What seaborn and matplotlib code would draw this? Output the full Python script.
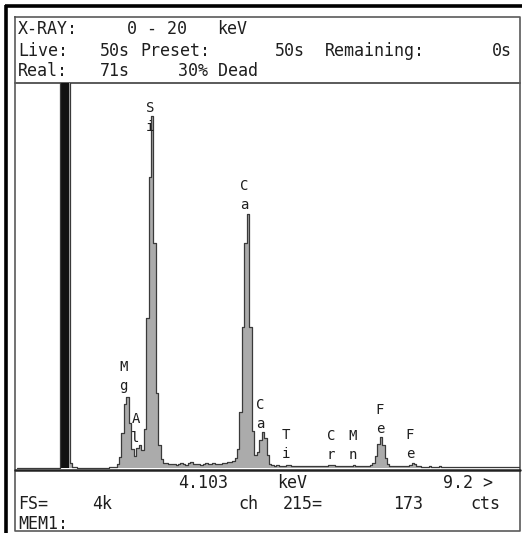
import numpy as np
import matplotlib
matplotlib.use("Agg")
import matplotlib.pyplot as plt
import seaborn as sns

# EDS spectrum, counts per 0.05 keV channel, one row per keV (-1.00 .. 9.25)
chan_start = -1.0
chan_width = 0.05
full_scale = 4096

counts = [
    # -1 keV
    0, 0, 0, 0, 0, 0, 0, 0, 0, 0, 0, 0, 0, 0, 0, 0, 0, 0, 6000, 6000,
    # 0 keV
    6000, 6000, 60, 15, 8, 6, 5, 6, 5, 4, 5, 6, 5, 4, 5, 6, 5, 6, 8, 10,
    # 1 keV  (Mg, Al, Si)
    15, 40, 120, 380, 680, 760, 480, 200, 130, 210, 250, 190, 420, 1600, 3100, 3750, 2400, 800, 250, 100,
    # 2 keV
    60, 55, 45, 40, 50, 35, 45, 60, 40, 35, 55, 70, 45, 40, 50, 35, 45, 60, 50, 40,
    # 3 keV  (Ca ka)
    55, 45, 40, 50, 60, 55, 70, 65, 80, 110, 200, 600, 1500, 2400, 2700, 1500, 400, 140, 170, 300,
    # 4 keV  (Ca kb, Ti)
    390, 320, 140, 50, 30, 25, 30, 25, 20, 25, 35, 30, 20, 25, 20, 25, 20, 25, 20, 25,
    # 5 keV  (Cr, Mn)
    20, 25, 20, 25, 20, 20, 25, 30, 35, 30, 20, 25, 20, 25, 20, 20, 25, 30, 25, 20,
    # 6 keV  (Fe ka)
    25, 20, 25, 20, 30, 60, 130, 260, 330, 250, 110, 40, 25, 20, 25, 20, 20, 25, 20, 25,
    # 7 keV  (Fe kb)
    35, 55, 45, 25, 20, 18, 15, 18, 20, 15, 18, 15, 20, 18, 15, 18, 15, 18, 15, 18,
    # 8 keV
    15, 18, 15, 15, 18, 15, 15, 18, 15, 15, 18, 15, 15, 18, 15, 15, 18, 15, 15, 18,
    # 9 keV
    15, 15, 18, 15, 15, 15,
]

label_text = ["M\ng", "A\nl", "S\ni", "C\na", "C\na", "T\ni", "C\nr", "M\nn", "F\ne", "F\ne"]
label_kev = [1.16, 1.41, 1.71, 3.62, 3.94, 4.47, 5.39, 5.83, 6.38, 6.99]
label_cts = [980, 425, 3730, 2900, 570, 255, 245, 245, 520, 255]

header = [
    ("X-RAY:", 18, 29), ("0 - 20", 127, 29), ("keV", 217, 29),
    ("Live:", 18, 51), ("50s", 100, 51), ("Preset:", 140, 51), ("50s", 275, 51),
    ("Remaining:", 325, 51), ("0s", 492, 51),
    ("Real:", 18, 71), ("71s", 100, 71), ("30% Dead", 178, 71),
]
footer = [
    ("4.103", 178, 483), ("keV", 277, 483), ("9.2 >", 443, 483),
    ("FS=", 18, 504), ("4k", 92, 504), ("ch", 238, 504), ("215=", 283, 504),
    ("173", 393, 504), ("cts", 470, 504),
    ("MEM1:", 18, 524),
]

sns.set_style("white")
plt.rcParams["font.family"] = ["DejaVu Sans Mono", "DejaVu Sans"]

W, H = 522, 533
fig = plt.figure(figsize=(W / 100, H / 100), dpi=100)

# frame / screen layer in pixel coordinates
bg = fig.add_axes([0, 0, 1, 1])
bg.set_xlim(0, W)
bg.set_ylim(H, 0)
bg.axis("off")
bg.plot([5.5, 5.5], [5, H], color="black", lw=2.6, solid_capstyle="butt")
bg.plot([5, W], [6, 6], color="black", lw=2.6, solid_capstyle="butt")
box = "#5a5a5a"
bg.plot([15, 520, 520, 15, 15], [17, 17, 531, 531, 17], color=box, lw=1.2)
bg.plot([15, 520], [83, 83], color=box, lw=1.4)
bg.plot([15, 520], [469.5, 469.5], color="#222222", lw=1.8)

for txt, x, y in header + footer:
    bg.text(x, y, txt, fontsize=12, ha="left", va="center", color="#1e1e1e")

# spectrum
energy = chan_start + chan_width * np.arange(len(counts))
cts = np.array(counts, dtype=float)
ax = fig.add_axes([15 / W, (H - 469) / H, (520 - 15) / W, (469 - 83) / H])
ax.set_xlim(-1.04, 9.23)
ax.set_ylim(-8, full_scale)
ax.axis("off")
ax.fill_between(energy, 0, cts, step="mid", color="#ababab", lw=0)
ax.fill_between(energy, 0, cts, step="mid", where=cts > full_scale, color="#111111", lw=0)
sns.lineplot(x=energy, y=cts, drawstyle="steps-mid", color="#3a3a3a", lw=0.9, ax=ax)
ax.axis("off")

for txt, x, y in zip(label_text, label_kev, label_cts):
    ax.text(x, y, txt, fontsize=10, ha="center", va="center", linespacing=1.45, color="#1e1e1e")

fig.savefig("out.png", dpi=100)
